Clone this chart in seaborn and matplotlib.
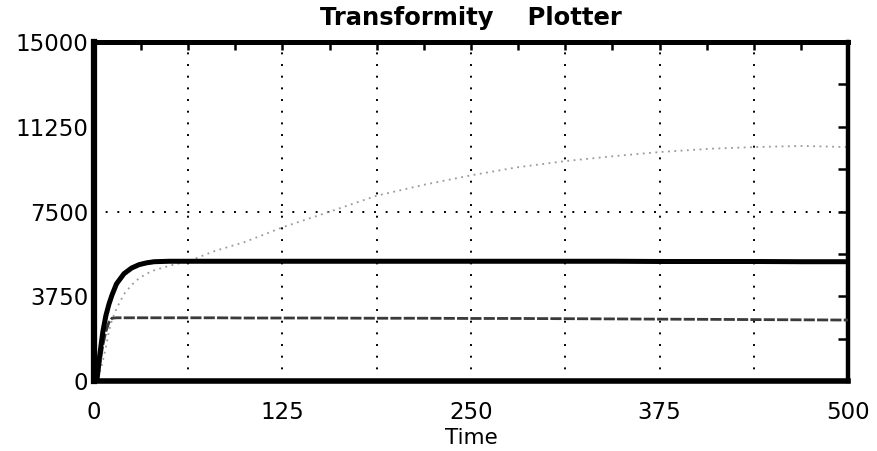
import numpy as np
import pandas as pd
import matplotlib
matplotlib.use("Agg")
import matplotlib.pyplot as plt
import seaborn as sns
from matplotlib.ticker import MultipleLocator

# ---- data ----
time = [0, 2, 4, 6, 8, 10, 12, 15, 20, 25, 30, 35, 40, 50, 62.5, 80, 100, 125,
        150, 187.5, 220, 250, 280, 312.5, 345, 375, 410, 437.5, 470, 500]
series_black = [0, 0, 1200, 2200, 2900, 3400, 3800, 4300, 4750, 5000, 5150, 5230,
                5280, 5300, 5300, 5300, 5300, 5300, 5300, 5300, 5300, 5300, 5300,
                5300, 5300, 5290, 5290, 5290, 5280, 5280]
series_dark = [0, 0, 800, 1600, 2200, 2600, 2780, 2800, 2800, 2800, 2800, 2800,
               2800, 2800, 2800, 2800, 2790, 2790, 2790, 2780, 2780, 2770, 2770,
               2760, 2750, 2740, 2730, 2720, 2710, 2700]
series_light = [0, 0, 400, 900, 1500, 2200, 2700, 3200, 3850, 4250, 4550, 4750,
                4900, 5100, 5300, 5750, 6150, 6800, 7350, 8200, 8700, 9100, 9450,
                9730, 9950, 10130, 10280, 10350, 10400, 10350]
x_ticks = [0, 125, 250, 375, 500]
y_ticks = [0, 3750, 7500, 11250, 15000]
title_text = "Transformity    Plotter"
x_label = "Time"

df = pd.DataFrame({"Time": time, "black": series_black,
                   "dark": series_dark, "light": series_light})

sns.set_style("white")
plt.rcParams['font.family'] = ['DejaVu Sans']

fig = plt.figure(figsize=(8.77, 4.51), dpi=100)
ax = fig.add_axes([0.107, 0.155, 0.860, 0.752])

# grid (dotted)
for gx in np.arange(62.5, 500, 62.5):
    ax.axvline(gx, color="black", lw=1.4, ls=(0, (1, 5)), zorder=1)
ax.axhline(7500, color="black", lw=1.4, ls=(0, (1, 5)), zorder=1)

sns.lineplot(data=df, x="Time", y="light", ax=ax, color="#9a9a9a", lw=1.3,
             linestyle=(0, (1, 2.5)), zorder=2)
sns.lineplot(data=df, x="Time", y="dark", ax=ax, color="#3a3a3a", lw=2.0,
             linestyle=(0, (4, 0.8)), zorder=3)
sns.lineplot(data=df, x="Time", y="black", ax=ax, color="black", lw=3.6, zorder=4)

ax.set_xlim(0, 500)
ax.set_ylim(0, 15000)
ax.set_xticks(x_ticks)
ax.set_yticks(y_ticks)
ax.set_xticklabels([str(v) for v in x_ticks])
ax.set_yticklabels([str(v) for v in y_ticks])
ax.xaxis.set_minor_locator(MultipleLocator(31.25))
ax.yaxis.set_minor_locator(MultipleLocator(1875))

ax.tick_params(axis="both", which="both", direction="in", top=True, right=True,
               colors="black", labelsize=16.5)
ax.tick_params(axis="x", which="both", length=6, width=1.8, pad=14)
ax.tick_params(axis="y", which="both", length=7, width=1.8, pad=4)

for side, w in {"left": 4.5, "bottom": 4.0, "top": 3.6, "right": 3.2}.items():
    ax.spines[side].set_linewidth(w)
    ax.spines[side].set_color("black")

ax.set_xlabel(x_label, fontsize=15.5, labelpad=3, color="black")
ax.set_ylabel("")
ax.set_title(title_text, fontsize=17.5, fontweight="semibold", pad=12, color="black")

fig.savefig("out.png", dpi=100)
